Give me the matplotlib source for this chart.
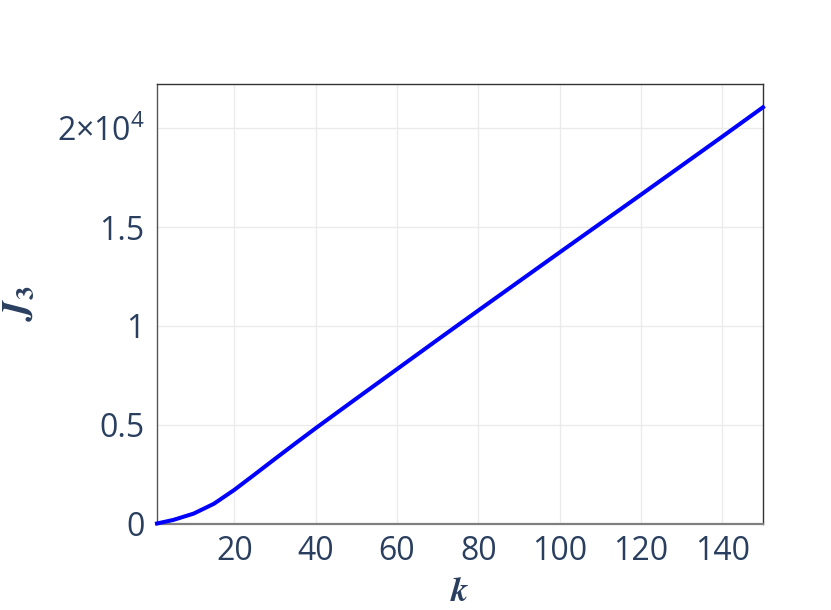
import matplotlib
matplotlib.use("Agg")
import matplotlib.pyplot as plt
from matplotlib.ticker import FixedLocator, FixedFormatter

# Data
k_vals = [1, 5, 10, 15, 20, 25, 30, 35, 40, 50, 60, 70, 80, 90, 100, 110, 120, 130, 140, 150]
j3_vals = [0, 180, 500, 1000, 1700, 2480, 3270, 4050, 4820, 6320, 7810, 9300, 10780, 12250,
           13720, 15180, 16640, 18110, 19580, 21063]

ytick_vals = [0, 5000, 10000, 15000, 20000]
ytick_labels = ['0', '0.5', '1', '1.5', r'2×10$^{4}$']
xtick_vals = [20, 40, 60, 80, 100, 120, 140]
xtick_labels = ['20', '40', '60', '80', '100', '120', '140']

plt.rcParams['font.family'] = ['Open Sans', 'DejaVu Sans']
plt.rcParams['mathtext.fontset'] = 'custom'
plt.rcParams['mathtext.rm'] = 'Open Sans'
plt.rcParams['mathtext.it'] = 'Open Sans:italic'
plt.rcParams['mathtext.bf'] = 'Open Sans:bold'

txt = '#2a3f5f'
fig = plt.figure(figsize=(8.31, 6.10), dpi=100)
ax = fig.add_axes([157/831, 1-523.5/610, 606/831, (523.5-84)/610])

ax.plot(k_vals, j3_vals, color='#0000ff', lw=2.9, solid_joinstyle='round', zorder=3, clip_on=False)

ax.set_xlim(1, 150)
ax.set_ylim(0, 22240)
ax.xaxis.set_major_locator(FixedLocator(xtick_vals))
ax.xaxis.set_major_formatter(FixedFormatter(xtick_labels))
ax.yaxis.set_major_locator(FixedLocator(ytick_vals))
ax.yaxis.set_major_formatter(FixedFormatter(ytick_labels))
ax.tick_params(axis='both', length=0, labelsize=23, labelcolor=txt)
ax.tick_params(axis='x', pad=8)
ax.tick_params(axis='y', pad=9)
ax.grid(True, color='#ebebeb', lw=1, zorder=0)
ax.set_axisbelow(True)

for s in ['top', 'right']:
    ax.spines[s].set_color('#333333')
    ax.spines[s].set_linewidth(1.0)
ax.spines['left'].set_color('#555555')
ax.spines['left'].set_linewidth(1.0)
ax.spines['bottom'].set_color('#7f7f7f')
ax.spines['bottom'].set_linewidth(1.6)

fig.text(460/831, 1-592/610, r'$\mathbfit{k}$', ha='center', va='center', fontsize=25,
         color=txt, math_fontfamily='stix')
fig.text(19/831, 1-303/610, r'$\mathbfit{J}_{\mathbf{3}}$', ha='center', va='center', fontsize=27,
         color=txt, rotation=90, math_fontfamily='stix')

fig.savefig('out.png', dpi=100, facecolor='white')
